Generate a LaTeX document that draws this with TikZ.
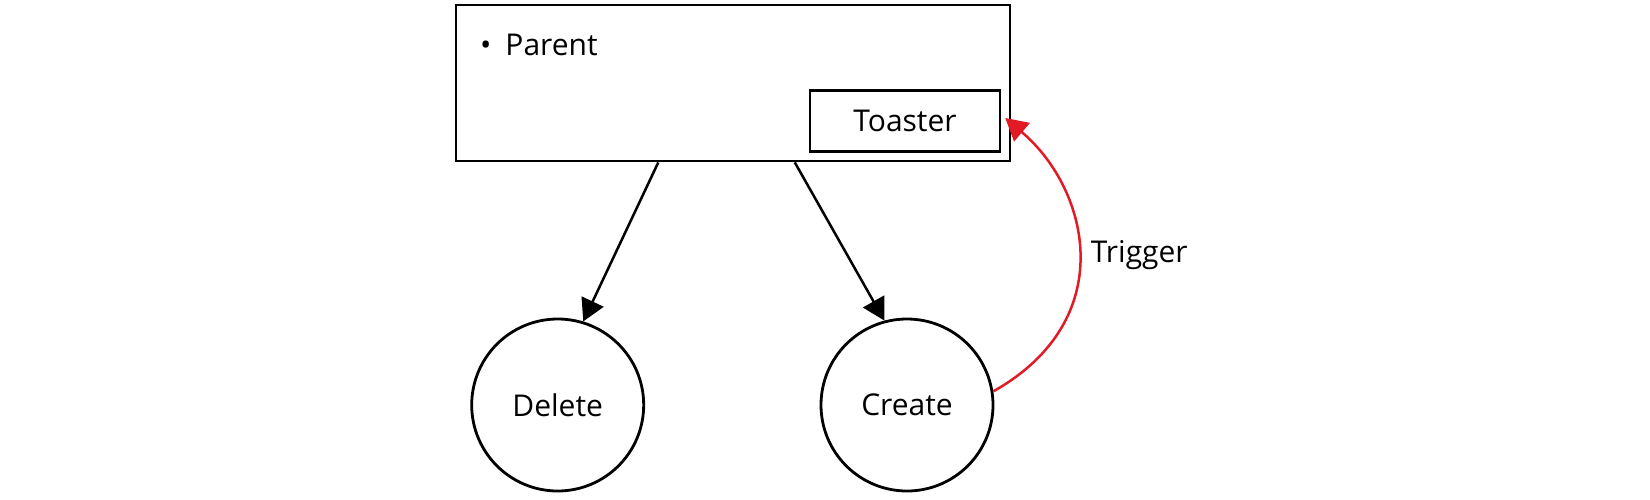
\documentclass[tikz,border=0pt]{standalone}
\usepackage{fontspec}
\setmainfont{Open Sans}
\usetikzlibrary{arrows.meta,calc}
\definecolor{trigred}{RGB}{224,27,36}
\tikzset{
  box/.style={draw=black, line width=2.8pt, rectangle, inner sep=0pt},
  circ/.style={draw=black, line width=2.8pt, circle, minimum size=172pt, inner sep=0pt, font=\fontsize{30}{36}\selectfont},
  lbl/.style={font=\fontsize{30}{36}\selectfont, inner sep=0pt},
  arr/.style={draw=black, line width=2.5pt, -{Triangle[length=22pt,width=24pt]}},
  redarr/.style={draw=trigred, line width=2.5pt, -{Triangle[length=22pt,width=24pt]}}
}
\begin{document}
\begin{tikzpicture}[x=1pt,y=-1pt]
\useasboundingbox (0,0) rectangle (1650,499);
\node[box, minimum width=554pt, minimum height=156pt] (parent) at (733,83) {};
\node[lbl, anchor=west] (parentlbl) at (480,45) {\textbullet\hspace{14pt}Parent};
\node[box, line width=2.5pt, minimum width=190pt, minimum height=61pt, lbl] (toaster) at (905,121) {Toaster};
\node[circ] (delete) at (557.7,405) {Delete};
\node[circ] (create) at (907,405) {Create};
\coordinate (p1) at ($(parent.south west)!0.3658!(parent.south east)$);
\coordinate (p2) at ($(parent.south west)!0.6110!(parent.south east)$);
\draw[arr] (p1) -- (delete.73);
\draw[arr] (p2) -- (create.105);
\draw[redarr] (create.9) .. controls (1120,320) and (1090,190) .. ($(toaster.east)+(4,-3)$)
  node[pos=0.5, right, xshift=11pt, lbl, black] (trig) {Trigger};
\end{tikzpicture}
\end{document}
